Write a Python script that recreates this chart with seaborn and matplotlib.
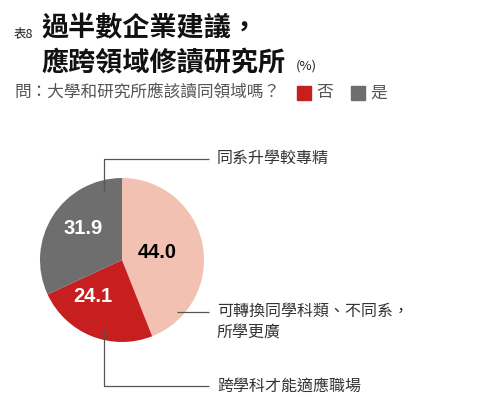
import matplotlib
matplotlib.use("Agg")
import matplotlib.pyplot as plt
import seaborn as sns
from matplotlib.patches import Rectangle

# ---- data ----
categories = ["可轉換同學科類、不同系，\n所學更廣", "跨學科才能適應職場", "同系升學較專精"]
values = [44.0, 24.1, 31.9]
value_labels = ["44.0", "24.1", "31.9"]
legend_labels = ["否", "是"]

sns.set_theme(style="white")
CJK = ["Noto Sans CJK TC", "DejaVu Sans"]
plt.rcParams["font.family"] = CJK

W, H = 500, 416
fig = plt.figure(figsize=(W / 100, H / 100), dpi=100)
fig.patch.set_facecolor("white")

def fx(x):
    return x / W

def fy(y):
    return 1 - y / H

# pie axes: center (122,260), radius 82 px
cx, cy, r = 122, 260, 82
ax = fig.add_axes([fx(cx - r), fy(cy + r), 2 * r / W, 2 * r / H])
colors = ["#F3C1B1", "#C71F1F", "#6E6E6E"]
wedges, _ = ax.pie(values, colors=colors, startangle=90, counterclock=False,
                   wedgeprops=dict(linewidth=0))
ax.set_xlim(-1, 1)
ax.set_ylim(-1, 1)
ax.set_aspect("equal")
ax.axis("off")

# value labels (data coords)
lab_pos = [(0.43, 0.09), (-0.35, -0.45), (-0.47, 0.39)]
lab_col = ["black", "white", "white"]
for (x, y), t, c in zip(lab_pos, value_labels, lab_col):
    ax.text(x, y, t, ha="center", va="center", fontsize=14.5, fontweight="bold",
            color=c, family="Liberation Sans")

def d(px, py):
    return (px - cx) / r, (cy - py) / r

line_kw = dict(color="#555555", lw=0.9, clip_on=False, solid_capstyle="butt")
# callout lines
for pts in ([(104, 192), (104, 159), (209, 159)],
            [(177, 312), (209, 312)],
            [(104, 330), (104, 386), (209, 386)]):
    xs, ys = zip(*[d(*p) for p in pts])
    ax.plot(xs, ys, **line_kw)

txt_kw = dict(fontsize=11.5, color="#333333", va="center", ha="left", family=CJK)
fig.text(fx(217), fy(158), categories[2], **txt_kw)
fig.text(fx(217), fy(322), categories[0], linespacing=1.25, **txt_kw)
fig.text(fx(217), fy(386), categories[1], **txt_kw)

# title
fig.text(fx(14), fy(34), "表8", fontsize=9, color="#222222", va="center", ha="left")
fig.text(fx(41), fy(28), "過半數企業建議，", fontsize=19.5, fontweight="bold",
         color="#111111", va="center", ha="left")
fig.text(fx(41), fy(63), "應跨領域修讀研究所", fontsize=19.5, fontweight="bold",
         color="#111111", va="center", ha="left")
fig.text(fx(296), fy(66), "(%)", fontsize=9.5, color="#222222", va="center", ha="left")

# subtitle + legend
fig.text(fx(14), fy(93), "問：大學和研究所應該讀同領域嗎？", fontsize=12,
         color="#555555", va="center", ha="left")
for x0, c, lab in [(297, colors[1], legend_labels[0]), (351, colors[2], legend_labels[1])]:
    fig.patches.append(Rectangle((fx(x0), fy(100)), 14 / W, 14 / H, color=c,
                                 transform=fig.transFigure, figure=fig))
    fig.text(fx(x0 + 19), fy(93), lab, fontsize=12, color="#555555",
             va="center", ha="left")

fig.savefig("out.png", dpi=100, facecolor="white")
